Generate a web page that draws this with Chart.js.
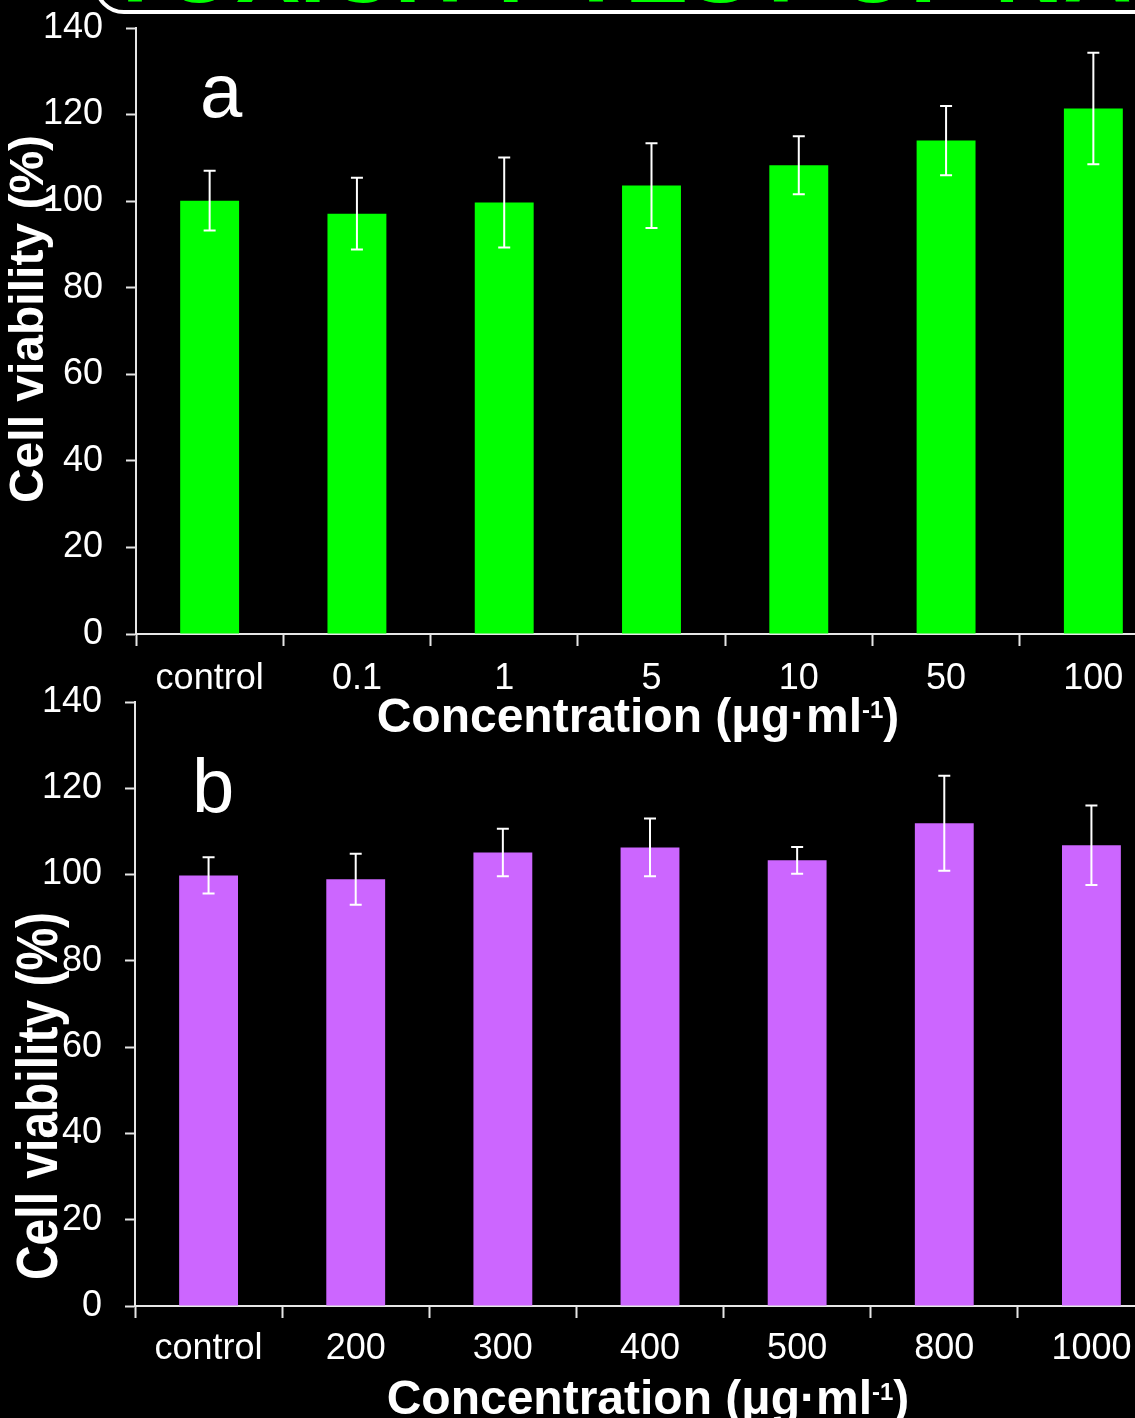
<!DOCTYPE html>
<html>
<head>
<meta charset="utf-8">
<title>Cell viability</title>
<script src="https://cdn.jsdelivr.net/npm/chart.js@4.4.1/dist/chart.umd.min.js"></script>
<style>
	html, body { margin: 0; padding: 0; background: #000; overflow: hidden; }
	body { width: 1135px; height: 1418px; position: relative; }
	#cartel {
		position: absolute; left: 94px; top: -100px; width: 1200px; height: 114px;
		border: 4px solid #fff; border-radius: 30px; box-sizing: border-box;
	}
	#cartelTexto {
		position: absolute; left: 106px; top: -85px; line-height: 95px;
		font: bold 95px "Liberation Sans", Arial, sans-serif; color: #00ff00; white-space: nowrap;
	}
	canvas { position: absolute; left: 0; }
	#graficoA { top: 0; }
	#graficoB { top: 674px; }
</style>
</head>
<body>
<div id="cartel"></div>
<div id="cartelTexto">TOXICITY TEST OF NANOPARTICLES</div>
<canvas id="graficoA" width="1200" height="760"></canvas>
<canvas id="graficoB" width="1200" height="760"></canvas>
<script>
// datos
const categoriasA = ['control', '0.1', '1', '5', '10', '50', '100'];
const viabilidadA = [100.1, 97.1, 99.7, 103.6, 108.3, 114.0, 121.4];
const errorA = [6.9, 8.3, 10.4, 9.8, 6.7, 8.0, 12.9];

const categoriasB = ['control', '200', '300', '400', '500', '800', '1000'];
const viabilidadB = [99.8, 98.9, 105.1, 106.3, 103.3, 111.9, 106.8];
const errorB = [4.2, 5.9, 5.5, 6.7, 3.1, 11.0, 9.2];

const ticksY = [0, 20, 40, 60, 80, 100, 120, 140];

const tituloY = 'Cell viability (%)';
const tituloX = 'Concentration (\u03BCg\u00B7ml';
const tituloXSup = '-1';
const tituloXFin = ')';

const fuente = '"Liberation Sans", Arial, sans-serif';
const colorEje = '#e6e6e6';

Chart.defaults.font.family = fuente;
Chart.defaults.color = '#ffffff';

// barras de error
const barrasError = {
	id: 'barrasError',
	afterDatasetsDraw(chart, args, opts) {
		const ctx = chart.ctx;
		const escala = chart.scales.y;
		const meta = chart.getDatasetMeta(0);
		const valores = chart.data.datasets[0].data;
		ctx.save();
		ctx.strokeStyle = '#ffffff';
		ctx.lineWidth = 2;
		meta.data.forEach((barra, i) => {
			const arriba = escala.getPixelForValue(valores[i] + opts.errores[i]);
			const abajo = escala.getPixelForValue(valores[i] - opts.errores[i]);
			ctx.beginPath();
			ctx.moveTo(barra.x, arriba);
			ctx.lineTo(barra.x, abajo);
			ctx.moveTo(barra.x - 6, arriba);
			ctx.lineTo(barra.x + 6, arriba);
			ctx.moveTo(barra.x - 6, abajo);
			ctx.lineTo(barra.x + 6, abajo);
			ctx.stroke();
		});
		ctx.restore();
	}
};

// letra del panel y titulos de los ejes
const textosPanel = {
	id: 'textosPanel',
	afterDraw(chart, args, opts) {
		const ctx = chart.ctx;
		ctx.save();
		ctx.fillStyle = '#ffffff';
		ctx.textBaseline = 'alphabetic';

		ctx.font = '76px ' + fuente;
		ctx.textAlign = 'left';
		ctx.fillText(opts.letra, opts.letraX, opts.letraY);

		ctx.font = 'bold 48px ' + fuente;
		const w1 = ctx.measureText(tituloX).width;
		const w3 = ctx.measureText(tituloXFin).width;
		ctx.font = 'bold 24px ' + fuente;
		const w2 = ctx.measureText(tituloXSup).width;
		let x = opts.tituloXCentro - (w1 + w2 + w3) / 2;
		ctx.font = 'bold 48px ' + fuente;
		ctx.fillText(tituloX, x, opts.tituloXBase);
		ctx.font = 'bold 24px ' + fuente;
		ctx.fillText(tituloXSup, x + w1, opts.tituloXBase - 14);
		ctx.font = 'bold 48px ' + fuente;
		ctx.fillText(tituloXFin, x + w1 + w2, opts.tituloXBase);

		ctx.translate(opts.tituloYBase, opts.tituloYCentro);
		ctx.rotate(-Math.PI / 2);
		ctx.scale(1, opts.tituloYEstirar);
		ctx.textAlign = 'center';
		ctx.fillText(tituloY, 0, 0);
		ctx.restore();
	}
};

function crearGrafico(id, categorias, valores, errores, color, extra) {
	return new Chart(document.getElementById(id), {
		type: 'bar',
		data: {
			labels: categorias,
			datasets: [{
				data: valores,
				backgroundColor: color,
				borderWidth: 0,
				barPercentage: 0.4,
				categoryPercentage: 1.0
			}]
		},
		options: {
			responsive: false,
			animation: false,
			devicePixelRatio: 1,
			layout: {
				padding: { top: 28, right: extra.derecha, left: 0, bottom: 0 }
			},
			plugins: {
				legend: { display: false },
				tooltip: { enabled: false },
				barrasError: { errores: errores },
				textosPanel: extra.textos
			},
			scales: {
				x: {
					grid: {
						display: true,
						drawOnChartArea: false,
						drawTicks: true,
						tickLength: 12,
						tickWidth: 2,
						tickColor: colorEje,
						offset: true
					},
					border: { display: true, color: colorEje, width: 2 },
					ticks: {
						font: { size: 36 },
						color: '#ffffff',
						padding: extra.paddingX,
						maxRotation: 0,
						autoSkip: false
					},
					afterFit: function (escala) {
						escala.height = extra.altoX;
						escala.paddingLeft = 0;
						escala.paddingRight = 0;
					}
				},
				y: {
					min: 0,
					max: 140,
					afterBuildTicks: function (escala) {
						escala.ticks = ticksY.map(v => ({ value: v }));
					},
					grid: {
						display: true,
						drawOnChartArea: false,
						drawTicks: true,
						tickLength: 10,
						tickWidth: 2,
						tickColor: colorEje
					},
					border: { display: true, color: colorEje, width: 2 },
					ticks: {
						font: { size: 36 },
						color: '#ffffff',
						padding: 23
					},
					afterFit: function (escala) {
						escala.width = extra.anchoY;
						escala.paddingTop = 0;
						escala.paddingBottom = 0;
					}
				}
			}
		},
		plugins: [barrasError, textosPanel]
	});
}

crearGrafico('graficoA', categoriasA, viabilidadA, errorA, '#00ff00', {
	derecha: 33,
	anchoY: 136,
	altoX: 126,
	paddingX: 11,
	textos: {
		letra: 'a', letraX: 200, letraY: 117,
		tituloXCentro: 638, tituloXBase: 732,
		tituloYBase: 43, tituloYCentro: 319, tituloYEstirar: 1.0
	}
});

crearGrafico('graficoB', categoriasB, viabilidadB, errorB, '#cc66ff', {
	derecha: 35,
	anchoY: 135,
	altoX: 128,
	paddingX: 9,
	textos: {
		letra: 'b', letraX: 192, letraY: 138,
		tituloXCentro: 648, tituloXBase: 740,
		tituloYBase: 57, tituloYCentro: 422, tituloYEstirar: 1.2
	}
});
</script>
</body>
</html>
